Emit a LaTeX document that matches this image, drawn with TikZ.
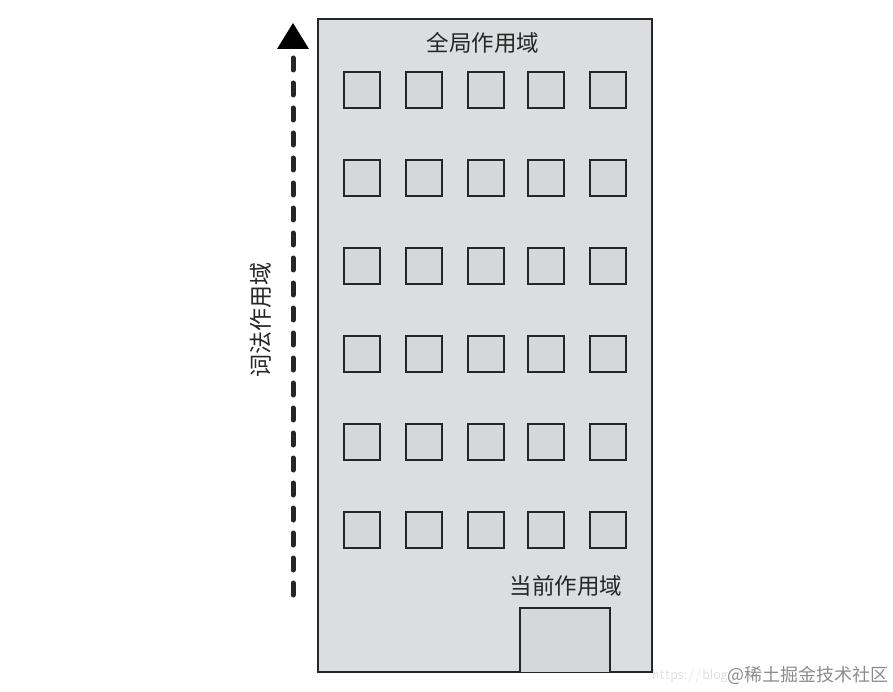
\documentclass[tikz,border=0pt]{standalone}
\usepackage{fontspec}
\newfontfamily\cjk{Noto Sans CJK SC}
\definecolor{wall}{HTML}{DCDDDE}
\definecolor{win}{HTML}{D6D7D8}
\definecolor{edge}{HTML}{262626}
\begin{document}
\begin{tikzpicture}[x=1pt,y=-1pt,
  building/.style={draw=edge,fill=wall,line width=2.6pt},
  window/.style={draw=edge,fill=win,line width=2.4pt},
  lbl/.style={font=\cjk\fontsize{22.5}{26}\selectfont,text=black!85,inner sep=0pt}]
\useasboundingbox (0,0) rectangle (893,692);
\fill[white] (0,0) rectangle (893,692);
\draw[building] (318,19) rectangle (652,672);
\foreach \cx [count=\i] in {362,424,486,546,608}{
  \foreach \cy [count=\j] in {90,178,266,354,442,530}{
    \draw[window] (\cx-18,\cy-18) rectangle (\cx+18,\cy+18);
  }
}
\draw[window,line width=2.6pt] (520,672) -- (520,608) -- (610,608) -- (610,672);
\node[lbl] (global) at (483,43) {全局作用域};
\node[lbl] (current) at (566,586) {当前作用域};
\node[lbl,font=\cjk\fontsize{23}{26}\selectfont,rotate=90] (lex) at (261,320) {词法作用域};
\coordinate (abot) at (293,595);
\coordinate (atop) at (293,50);
\coordinate (tip) at (293,23);
\draw[line width=5pt,line cap=round,dash pattern=on 12pt off 13pt,edge] (abot) -- (atop);
\fill[black] (277,49) -- (tip) -- (309,49) -- cycle;
\node[font=\fontsize{15}{17}\selectfont\sffamily,text=black!12,anchor=west,inner sep=0pt] (url) at (652,676) {https://blog};
\node[font=\cjk\fontsize{18}{20}\selectfont,text=black!45,anchor=west,inner sep=0pt] (wm) at (727,675) {@稀土掘金技术社区};
\end{tikzpicture}
\end{document}
